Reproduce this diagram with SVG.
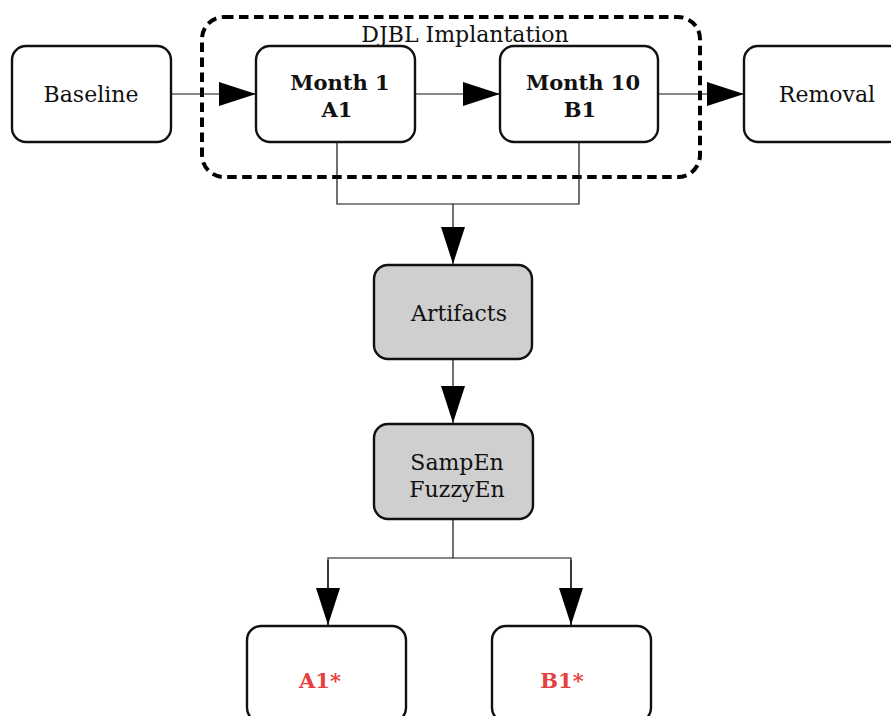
<svg xmlns="http://www.w3.org/2000/svg" width="891" height="716" viewBox="0 0 891 716">
<style>
.box{fill:#fff;stroke:#111;stroke-width:2.4}
.gray{fill:#cfcfcf}
.t{font-family:"DejaVu Serif","Liberation Serif",serif;font-size:22px;fill:#111;text-anchor:middle}
.b{font-weight:bold;font-size:21px}
.red{fill:#e8403f}
.c{fill:none;stroke:#111;stroke-width:1.2}
</style>
<defs>
<marker id="ah" markerUnits="userSpaceOnUse" markerWidth="37" markerHeight="24" refX="37" refY="12" orient="auto">
<path d="M0,0 L37,12 L0,24 z" fill="#000"/>
</marker>
</defs>
<g id="container">
<rect x="202" y="17" width="498" height="160" rx="22" fill="none" stroke="#000" stroke-width="4" stroke-dasharray="9.5 5.5"/>
<text class="t" x="465" y="42">DJBL Implantation</text>
</g>
<g id="connectors">
<line class="c" x1="171" y1="94" x2="256" y2="94" marker-end="url(#ah)"/>
<line class="c" x1="415" y1="94" x2="500" y2="94" marker-end="url(#ah)"/>
<line class="c" x1="658" y1="94" x2="744" y2="94" marker-end="url(#ah)"/>
<polyline class="c" points="337,142 337,204 579,204 579,142"/>
<line class="c" x1="453" y1="204" x2="453" y2="264" marker-end="url(#ah)"/>
<line class="c" x1="453" y1="359" x2="453" y2="423" marker-end="url(#ah)"/>
<polyline class="c" points="453,519 453,558"/>
<polyline class="c" points="328,625 328,558 571,558 571,625"/>
<line class="c" x1="328" y1="560" x2="328" y2="625" marker-end="url(#ah)"/>
<line class="c" x1="571" y1="560" x2="571" y2="625" marker-end="url(#ah)"/>
</g>
<g id="baseline">
<rect class="box" x="12" y="46" width="159" height="96" rx="14"/>
<text class="t" x="91" y="102">Baseline</text>
</g>
<g id="month1">
<rect class="box" x="256" y="46" width="159" height="96" rx="14"/>
<text class="t b" x="340" y="90">Month 1</text>
<text class="t b" x="337" y="117">A1</text>
</g>
<g id="month10">
<rect class="box" x="500" y="46" width="158" height="96" rx="14"/>
<text class="t b" x="583" y="90">Month 10</text>
<text class="t b" x="580" y="117">B1</text>
</g>
<g id="removal">
<rect class="box" x="744" y="46" width="159" height="96" rx="14"/>
<text class="t" x="827" y="102">Removal</text>
</g>
<g id="artifacts">
<rect class="box gray" x="374" y="265" width="158" height="94" rx="14"/>
<text class="t" x="459" y="321">Artifacts</text>
</g>
<g id="entropy">
<rect class="box gray" x="374" y="424" width="159" height="95" rx="14"/>
<text class="t" x="457" y="470">SampEn</text>
<text class="t" x="457" y="497">FuzzyEn</text>
</g>
<g id="a1star">
<rect class="box" x="247" y="626" width="159" height="96" rx="14"/>
<text class="t b red" x="320" y="688">A1*</text>
</g>
<g id="b1star">
<rect class="box" x="492" y="626" width="159" height="96" rx="14"/>
<text class="t b red" x="562" y="688">B1*</text>
</g>
</svg>
